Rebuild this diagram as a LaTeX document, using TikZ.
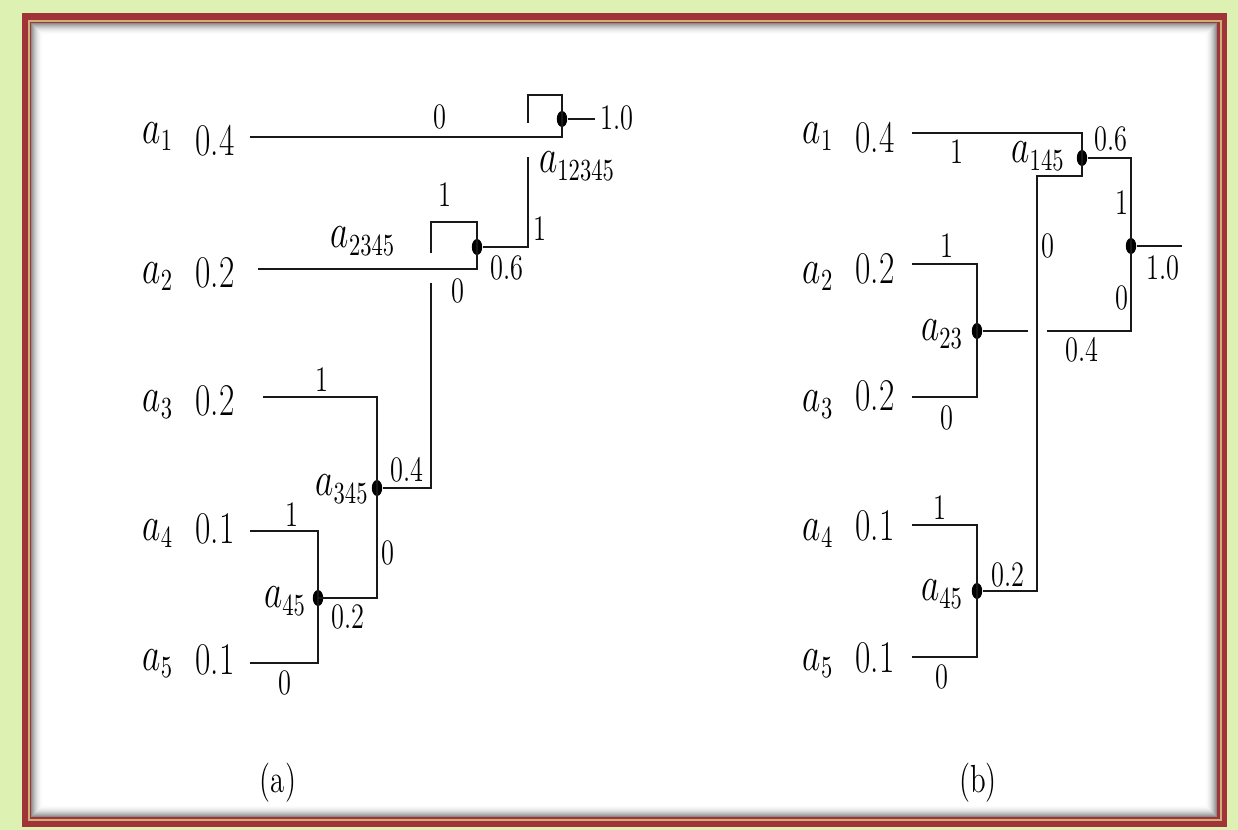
\documentclass[tikz,border=0pt]{standalone}
\usepackage{graphicx}
\usetikzlibrary{shapes.geometric}
\definecolor{bggreen}{RGB}{221,242,178}
\definecolor{framered}{RGB}{160,52,56}
\definecolor{frametan}{RGB}{204,176,120}
\newcommand\st[1]{\scalebox{1.03}[1.4]{#1}}
\tikzset{
  lab/.style={inner sep=0pt, font=\fontsize{16.2}{19}\selectfont},
  sm/.style={inner sep=0pt, font=\fontsize{12.8}{15}\selectfont},
  captxt/.style={inner sep=0pt, font=\fontsize{14}{16}\selectfont},
  dot/.style={ellipse, fill=black, inner sep=0pt, minimum width=5.2pt, minimum height=8pt},
  wire/.style={line width=1.15pt, black!90}
}
\begin{document}
\begin{tikzpicture}[x=0.5pt,y=-0.5pt]
\useasboundingbox (0,0) rectangle (1238,830);
% frame
\fill[bggreen] (0,0) rectangle (1238,830);
\fill[framered] (22,13) rectangle (1227,827);
\draw[frametan, line width=1pt] (28.5,20.5) rectangle (1220.5,819.5);
\fill[white] (31,23) rectangle (1217,817);
\foreach \i in {0,...,11}{
  \pgfmathsetmacro\op{0.45*(1-\i/12)*(1-\i/12)}
  \draw[black, opacity=\op, line width=0.5pt] ({31.5+\i},{23.5+\i}) rectangle ({1216.5-\i},{816.5-\i});
}
% ================= panel (a)
\node[dot] (n12345) at (562,119) {};
\node[dot] (n2345) at (477,247) {};
\node[dot] (n345) at (377,488) {};
\node[dot] (n45) at (318,598) {};
\coordinate (a1s) at (250,137);
\coordinate (a2s) at (258,269);
\coordinate (a3s) at (263,397);
\coordinate (a4s) at (250,531);
\coordinate (a5s) at (250,663);
\coordinate (outa) at (595,119);
\coordinate (g1top) at (528,123);
\coordinate (g1bot) at (528,157);
\coordinate (g2top) at (431,253);
\coordinate (g2bot) at (431,283);
\draw[wire] (a1s) -- (a1s -| n12345) -- (n12345.center) -- ++(0,-24) -| (g1top);
\draw[wire] (g1bot) |- (n2345);
\draw[wire] (n12345) -- (outa);
\draw[wire] (a2s) -- (a2s -| n2345) -- (n2345.center) -- ++(0,-25) -| (g2top);
\draw[wire] (g2bot) |- (n345);
\draw[wire] (a3s) -| (n345.center) |- (n45.center);
\draw[wire] (a4s) -| (n45.center) |- (a5s);
% row labels (a)
\node[lab,anchor=base] (la1) at (158,143) {\st{$a_1$}};
\node[lab,anchor=base] (la2) at (158,283) {\st{$a_2$}};
\node[lab,anchor=base] (la3) at (158,411) {\st{$a_3$}};
\node[lab,anchor=base] (la4) at (158,540) {\st{$a_4$}};
\node[lab,anchor=base] (la5) at (158,670) {\st{$a_5$}};
\node[lab,anchor=base] (pa1) at (215,155) {\st{0.4}};
\node[lab,anchor=base] (pa2) at (215,287) {\st{0.2}};
\node[lab,anchor=base] (pa3) at (215,415) {\st{0.2}};
\node[lab,anchor=base] (pa4) at (215,543) {\st{0.1}};
\node[lab,anchor=base] (pa5) at (215,674) {\st{0.1}};
% branch labels (a)
\node[sm] (ea1) at (440,117) {\st{0}};
\node[sm] (ea2) at (617,118) {\st{1.0}};
\node[lab] (ta12345) at (577,166) {\st{$a_{12345}$}};
\node[sm] (ea3) at (540,229) {\st{1}};
\node[sm] (ea4) at (507,268) {\st{0.6}};
\node[sm] (ea5) at (445,195) {\st{1}};
\node[lab] (ta2345) at (363,241) {\st{$a_{2345}$}};
\node[sm] (ea6) at (458,291) {\st{0}};
\node[sm] (ea7) at (322,380) {\st{1}};
\node[sm] (ea8) at (407,470) {\st{0.4}};
\node[lab] (ta345) at (342,489) {\st{$a_{345}$}};
\node[sm] (ea9) at (292,515) {\st{1}};
\node[sm] (ea10) at (388,553) {\st{0}};
\node[lab] (ta45) at (285,601) {\st{$a_{45}$}};
\node[sm] (ea11) at (348,617) {\st{0.2}};
\node[sm] (ea12) at (285,683) {\st{0}};
\node[captxt] (capa) at (278,783) {\st{(a)}};
% ================= panel (b)
\node[dot] (n145) at (1082,158) {};
\node[dot] (nb) at (1131,246) {};
\node[dot] (n23) at (977,331) {};
\node[dot] (n45b) at (977,591) {};
\coordinate (b1s) at (912,133);
\coordinate (b2s) at (912,264);
\coordinate (b3s) at (912,397);
\coordinate (b4s) at (912,525);
\coordinate (b5s) at (912,657);
\coordinate (bcol) at (1037,591);
\coordinate (gb1) at (1047,331);
\coordinate (gb2) at (1028,331);
\coordinate (outb) at (1182,246);
\draw[wire] (b1s) -| (n145.center) -- ++(0,18) -| (bcol) -- (n45b);
\draw[wire] (n145) -| (nb.center) |- (gb1);
\draw[wire] (gb2) -- (n23);
\draw[wire] (nb) -- (outb);
\draw[wire] (b2s) -| (n23.center) |- (b3s);
\draw[wire] (b4s) -| (n45b.center) |- (b5s);
% row labels (b)
\node[lab,anchor=base] (lb1) at (818,143) {\st{$a_1$}};
\node[lab,anchor=base] (lb2) at (818,283) {\st{$a_2$}};
\node[lab,anchor=base] (lb3) at (818,411) {\st{$a_3$}};
\node[lab,anchor=base] (lb4) at (818,540) {\st{$a_4$}};
\node[lab,anchor=base] (lb5) at (818,670) {\st{$a_5$}};
\node[lab,anchor=base] (pb1) at (875,152) {\st{0.4}};
\node[lab,anchor=base] (pb2) at (875,283) {\st{0.2}};
\node[lab,anchor=base] (pb3) at (875,410) {\st{0.2}};
\node[lab,anchor=base] (pb4) at (875,540) {\st{0.1}};
\node[lab,anchor=base] (pb5) at (875,672) {\st{0.1}};
% branch labels (b)
\node[sm] (eb1) at (957,152) {\st{1}};
\node[lab] (tb145) at (1038,156) {\st{$a_{145}$}};
\node[sm] (eb2) at (1111,139) {\st{0.6}};
\node[sm] (eb3) at (1122,203) {\st{1}};
\node[sm] (eb4) at (1048,246) {\st{0}};
\node[sm] (eb5) at (1163,268) {\st{1.0}};
\node[sm] (eb6) at (1122,298) {\st{0}};
\node[sm] (eb7) at (1082,350) {\st{0.4}};
\node[sm] (eb8) at (947,246) {\st{1}};
\node[lab] (tb23) at (942,334) {\st{$a_{23}$}};
\node[sm] (eb9) at (947,418) {\st{0}};
\node[sm] (eb10) at (940,508) {\st{1}};
\node[lab] (tb45) at (942,594) {\st{$a_{45}$}};
\node[sm] (eb11) at (1008,575) {\st{0.2}};
\node[sm] (eb12) at (942,677) {\st{0}};
\node[captxt] (capb) at (978,783) {\st{(b)}};
\end{tikzpicture}
\end{document}
